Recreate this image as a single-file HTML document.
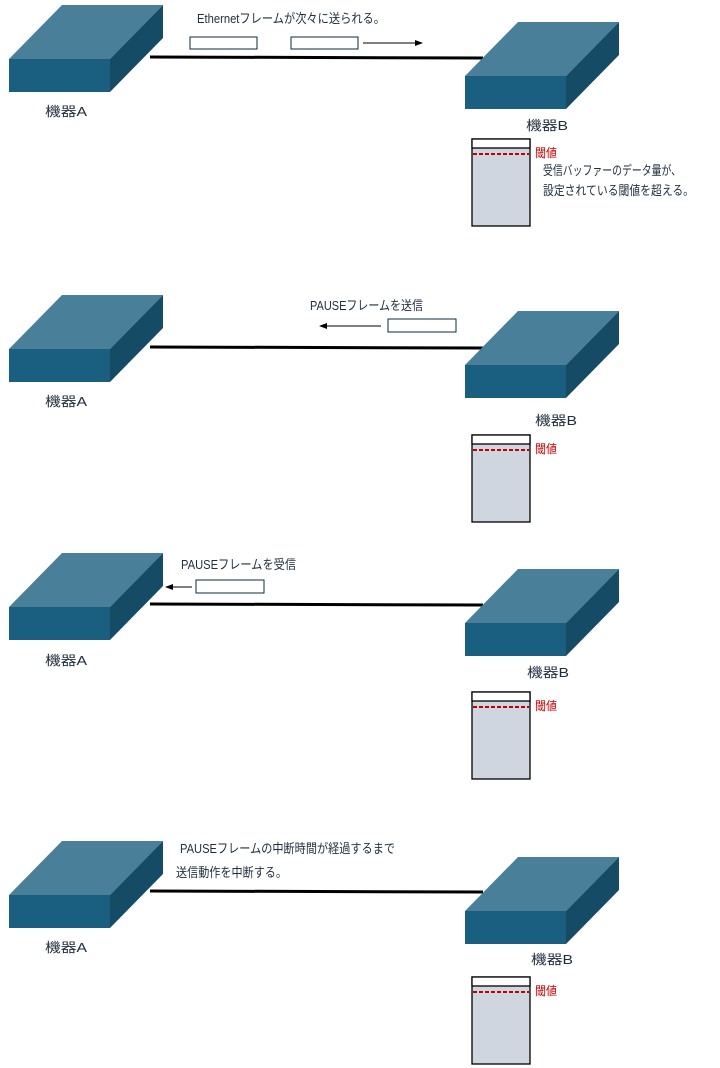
<!DOCTYPE html>
<html><head><meta charset="utf-8"><style>
html,body{margin:0;padding:0;background:#fff;}
svg{display:block;}
text{font-family:"Liberation Sans","Noto Sans CJK JP",sans-serif;font-size:13px;fill:#1f2d3d;}
.r{fill:#c00000;font-size:12px;}
</style></head><body>
<svg width="720" height="1068" viewBox="0 0 720 1068" xmlns="http://www.w3.org/2000/svg">
<defs>
<g id="dev">
<polygon points="0,54 101,54 154,0 53,0" fill="#4a7f9a"/>
<rect x="0" y="54" width="101" height="33" fill="#1a5f80"/>
<polygon points="101,54 154,0 154,33 101,87" fill="#164b66"/>
</g>
<g id="buf">
<rect x="0" y="0" width="58" height="87" fill="#cfd6df" stroke="#000" stroke-width="1.3"/>
<rect x="0" y="0" width="58" height="9" fill="#fff" stroke="#000" stroke-width="1.3"/>
<line x1="1" y1="15" x2="57" y2="15" stroke="#c00000" stroke-width="2" stroke-dasharray="4,2"/>
</g>
<marker id="ah" markerWidth="8" markerHeight="8" refX="7" refY="4" orient="auto" markerUnits="userSpaceOnUse">
<path d="M0,1 L8,4 L0,7 Z" fill="#000"/>
</marker>
</defs>

<!-- Panel 1 -->
<line x1="150" y1="57" x2="483" y2="58" stroke="#000" stroke-width="3"/>
<use href="#dev" x="9" y="5"/>
<use href="#dev" x="465" y="22"/>
<text x="45" y="116" textLength="42" lengthAdjust="spacingAndGlyphs">機器A</text>
<text x="526" y="130" textLength="42" lengthAdjust="spacingAndGlyphs">機器B</text>
<text x="197" y="23" textLength="188" lengthAdjust="spacingAndGlyphs">Ethernetフレームが次々に送られる。</text>
<rect x="190" y="37" width="67" height="12" fill="#fff" stroke="#0d2a3a" stroke-width="1"/>
<rect x="291" y="37" width="67" height="12" fill="#fff" stroke="#0d2a3a" stroke-width="1"/>
<line x1="363" y1="43" x2="422" y2="43" stroke="#000" stroke-width="1" marker-end="url(#ah)"/>
<use href="#buf" x="472" y="139"/>
<text class="r" x="535" y="157" textLength="22" lengthAdjust="spacingAndGlyphs">閾値</text>
<text x="543" y="175" textLength="138" lengthAdjust="spacingAndGlyphs">受信バッファーのデータ量が、</text>
<text x="543" y="195" textLength="151" lengthAdjust="spacingAndGlyphs">設定されている閾値を超える。</text>

<!-- Panel 2 -->
<line x1="150" y1="347" x2="483" y2="348" stroke="#000" stroke-width="3"/>
<use href="#dev" x="9" y="295"/>
<use href="#dev" x="465" y="311"/>
<text x="45" y="406" textLength="42" lengthAdjust="spacingAndGlyphs">機器A</text>
<text x="535" y="425" textLength="42" lengthAdjust="spacingAndGlyphs">機器B</text>
<text x="310" y="310" textLength="113" lengthAdjust="spacingAndGlyphs">PAUSEフレームを送信</text>
<rect x="388" y="319" width="68" height="13" fill="#fff" stroke="#0d2a3a" stroke-width="1"/>
<line x1="381" y1="326" x2="320" y2="326" stroke="#000" stroke-width="1" marker-end="url(#ah)"/>
<use href="#buf" x="472" y="435"/>
<text class="r" x="535" y="453" textLength="22" lengthAdjust="spacingAndGlyphs">閾値</text>

<!-- Panel 3 -->
<line x1="150" y1="604" x2="483" y2="605" stroke="#000" stroke-width="3"/>
<use href="#dev" x="9" y="553"/>
<use href="#dev" x="465" y="569"/>
<text x="45" y="665" textLength="42" lengthAdjust="spacingAndGlyphs">機器A</text>
<text x="527" y="677" textLength="42" lengthAdjust="spacingAndGlyphs">機器B</text>
<text x="181" y="569" textLength="115" lengthAdjust="spacingAndGlyphs">PAUSEフレームを受信</text>
<rect x="196" y="580" width="68" height="13" fill="#fff" stroke="#0d2a3a" stroke-width="1"/>
<line x1="192" y1="587" x2="166" y2="587" stroke="#000" stroke-width="1" marker-end="url(#ah)"/>
<use href="#buf" x="472" y="692"/>
<text class="r" x="535" y="710" textLength="22" lengthAdjust="spacingAndGlyphs">閾値</text>

<!-- Panel 4 -->
<line x1="150" y1="891" x2="483" y2="892" stroke="#000" stroke-width="3"/>
<use href="#dev" x="9" y="841"/>
<use href="#dev" x="465" y="857"/>
<text x="45" y="952" textLength="42" lengthAdjust="spacingAndGlyphs">機器A</text>
<text x="531" y="964" textLength="42" lengthAdjust="spacingAndGlyphs">機器B</text>
<text x="180" y="853" textLength="215" lengthAdjust="spacingAndGlyphs">PAUSEフレームの中断時間が経過するまで</text>
<text x="176" y="877" textLength="111" lengthAdjust="spacingAndGlyphs">送信動作を中断する。</text>
<use href="#buf" x="472" y="977"/>
<text class="r" x="535" y="995" textLength="22" lengthAdjust="spacingAndGlyphs">閾値</text>
</svg>
</body></html>
